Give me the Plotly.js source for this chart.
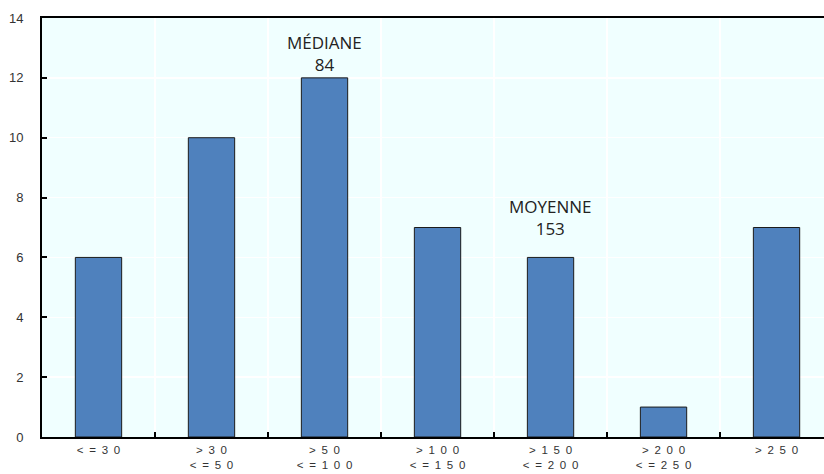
<!DOCTYPE html>
<html>
<head>
<meta charset="utf-8">
<script src="https://cdn.plot.ly/plotly-3.0.1.min.js"></script>
<style>
  html, body { margin: 0; padding: 0; background: #ffffff; }
  #chart { width: 824px; height: 474px; }
</style>
</head>
<body>
<div id="chart"></div>
<script>
// Distribution by class (counts per bracket)
const categories = ['c1', 'c2', 'c3', 'c4', 'c5', 'c6', 'c7'];
const tickLabels = [
  '< = 3 0',
  '> 3 0<br>< = 5 0',
  '> 5 0<br>< = 1 0 0',
  '> 1 0 0<br>< = 1 5 0',
  '> 1 5 0<br>< = 2 0 0',
  '> 2 0 0<br>< = 2 5 0',
  '> 2 5 0'
];
const counts = [6, 10, 12, 7, 6, 1, 7];
const yTicks = [0, 2, 4, 6, 8, 10, 12, 14];

// widen gaps between characters in the axis labels
const spaced = tickLabels.map(s => s.replace(/ /g, '\u2002'));

const trace = {
  type: 'bar',
  x: categories,
  y: counts,
  width: 0.41,
  marker: { color: '#4F81BD', line: { color: '#1b1b1b', width: 1 } },
  hoverinfo: 'skip'
};

const noteFont = { family: 'Open Sans, Liberation Sans, sans-serif', size: 17, color: '#222222' };

const layout = {
  width: 824,
  height: 474,
  margin: { l: 42, r: 0, t: 18, b: 37, pad: 0 },
  paper_bgcolor: '#ffffff',
  plot_bgcolor: '#F0FFFF',
  showlegend: false,
  font: { family: 'Liberation Sans, Arial, sans-serif', color: '#222222' },
  xaxis: {
    type: 'category',
    range: [-0.5, 6.42],
    tickmode: 'array',
    tickvals: categories,
    ticktext: spaced,
    tickson: 'boundaries',
    ticks: 'inside',
    ticklen: 5,
    tickwidth: 2,
    tickcolor: '#000000',
    showgrid: true,
    gridcolor: '#ffffff',
    gridwidth: 1.5,
    showline: true,
    linecolor: '#000000',
    linewidth: 2,
    mirror: true,
    ticklabelstandoff: 1,
    tickfont: { size: 11.5, color: '#333333' },
    zeroline: false,
    fixedrange: true
  },
  yaxis: {
    range: [0, 14],
    tickmode: 'array',
    tickvals: yTicks,
    ticks: 'inside',
    ticklen: 5,
    tickwidth: 2,
    tickcolor: '#000000',
    showgrid: true,
    gridcolor: '#ffffff',
    gridwidth: 1.5,
    showline: true,
    linecolor: '#000000',
    linewidth: 2,
    mirror: false,
    zeroline: false,
    ticklabelstandoff: 14,
    tickfont: { size: 13, color: '#333333' },
    fixedrange: true
  },
  annotations: [
    {
      x: 'c3', y: 12.8, xref: 'x', yref: 'y',
      text: 'MÉDIANE<br>84', showarrow: false,
      yanchor: 'middle', align: 'center',
      font: noteFont
    },
    {
      x: 'c5', y: 7.35, xref: 'x', yref: 'y',
      text: 'MOYENNE<br>153', showarrow: false,
      yanchor: 'middle', align: 'center',
      font: noteFont
    }
  ]
};

Plotly.newPlot('chart', [trace], layout, { staticPlot: true, displayModeBar: false });
</script>
</body>
</html>
